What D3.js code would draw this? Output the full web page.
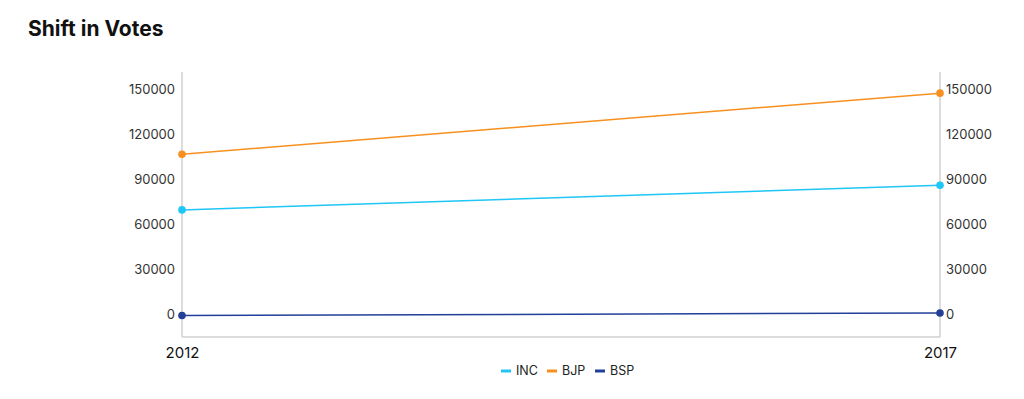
<!DOCTYPE html>
<html lang="en">
<head>
  <meta charset="UTF-8">
  <title>Shift in Votes</title>
  <script src="https://d3js.org/d3.v7.min.js"></script>
  <style>
    body { margin: 0; padding: 0; background: #fff; overflow: hidden; font-family: Inter, "Noto Sans", sans-serif; }
  </style>
</head>
<body>
  <svg id="chart" width="1024" height="399"></svg>
  <script>
    // Chart data
    const years = ["2012", "2017"];
    const seriesNames = ["INC", "BJP", "BSP"];
    const incVotes = [69900, 86300];
    const bjpVotes = [107000, 147700];
    const bspVotes = [-500, 1200];
    const tickValues = [0, 30000, 60000, 90000, 120000, 150000];

    const colors = { INC: "#1fc6f7", BJP: "#f8901f", BSP: "#233f98" };
    const series = [
      { name: "INC", values: incVotes },
      { name: "BJP", values: bjpVotes },
      { name: "BSP", values: bspVotes }
    ];

    const svg = d3.select("#chart");

    // Plot area
    const plotLeft = 182, plotRight = 940, plotTop = 72, plotBottom = 337;

    const x = d3.scalePoint().domain(years).range([plotLeft, plotRight]);
    const y = d3.scaleLinear().domain([-14800, 161800]).range([plotBottom, plotTop]);

    // Title
    svg.append("text")
      .attr("x", 28).attr("y", 36)
      .attr("font-size", 21).attr("font-weight", 700)
      .attr("fill", "#111")
      .text("Shift in Votes");

    // Frame: left, right and bottom lines
    const frame = svg.append("g").attr("stroke", "#d0d0d0").attr("stroke-width", 1.5);
    frame.append("line").attr("x1", plotLeft).attr("x2", plotLeft).attr("y1", plotTop).attr("y2", plotBottom);
    frame.append("line").attr("x1", plotRight).attr("x2", plotRight).attr("y1", plotTop).attr("y2", plotBottom);
    frame.append("line").attr("x1", plotLeft).attr("x2", plotRight).attr("y1", plotBottom).attr("y2", plotBottom);

    // Y axes on both sides
    const yLeft = svg.append("g")
      .attr("transform", `translate(${plotLeft - 7},0)`)
      .call(d3.axisLeft(y).tickValues(tickValues).tickSize(0).tickPadding(0).tickFormat(d3.format("d")));
    const yRight = svg.append("g")
      .attr("transform", `translate(${plotRight + 6},0)`)
      .call(d3.axisRight(y).tickValues(tickValues).tickSize(0).tickPadding(0).tickFormat(d3.format("d")));
    [yLeft, yRight].forEach(g => {
      g.select(".domain").remove();
      g.selectAll("text").attr("font-size", 13).attr("fill", "#333").attr("font-family", "Inter, 'Noto Sans', sans-serif").attr("dy", "0.32em");
    });

    // X axis labels
    const xAxis = svg.append("g")
      .attr("transform", `translate(0,${plotBottom + 7})`)
      .call(d3.axisBottom(x).tickSize(0).tickPadding(0));
    xAxis.select(".domain").remove();
    xAxis.selectAll("text").attr("font-size", 15).attr("fill", "#111").attr("font-family", "Inter, 'Noto Sans', sans-serif").attr("dy", "0.9em");

    // Lines and points
    const line = d3.line().x((d, i) => x(years[i])).y(d => y(d));
    series.forEach(s => {
      svg.append("path")
        .datum(s.values)
        .attr("d", line)
        .attr("fill", "none")
        .attr("stroke", colors[s.name])
        .attr("stroke-width", 1.5);
      svg.selectAll(null)
        .data(s.values)
        .enter().append("circle")
        .attr("cx", (d, i) => x(years[i]))
        .attr("cy", d => y(d))
        .attr("r", 3.8)
        .attr("fill", colors[s.name]);
    });

    // Legend
    const legendX = [501, 547, 595];
    const legend = svg.append("g").attr("transform", "translate(0,371)");
    seriesNames.forEach((name, i) => {
      legend.append("line")
        .attr("x1", legendX[i]).attr("x2", legendX[i] + 10)
        .attr("y1", 0).attr("y2", 0)
        .attr("stroke", colors[name]).attr("stroke-width", 3);
      legend.append("text")
        .attr("x", legendX[i] + 15).attr("y", 0).attr("dy", "0.35em")
        .attr("font-size", 12.5).attr("fill", "#222")
        .text(name);
    });
  </script>
</body>
</html>
